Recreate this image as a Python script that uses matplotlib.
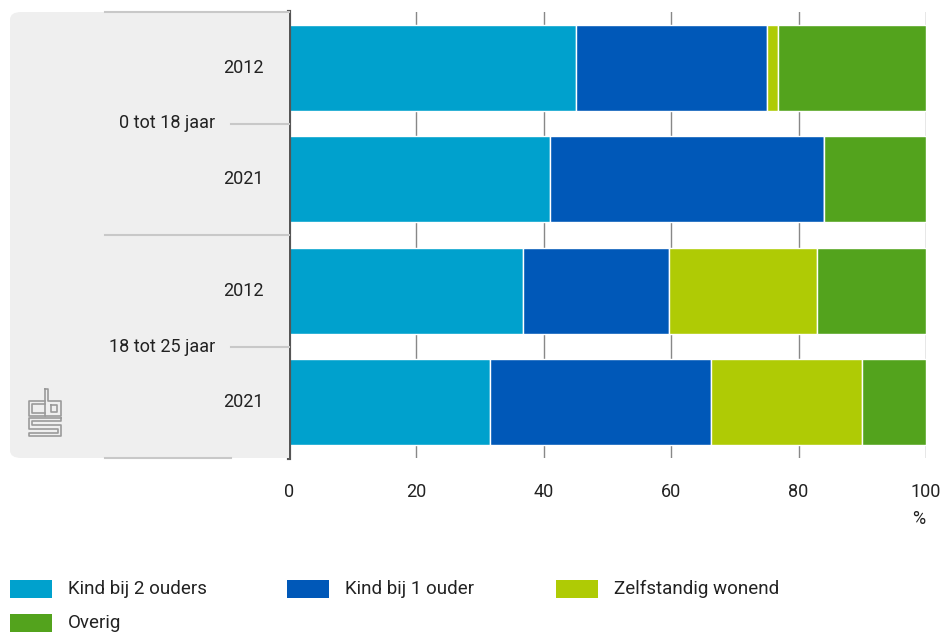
import matplotlib.pyplot as plt
import matplotlib.transforms as mtransforms
from matplotlib.patches import FancyBboxPatch, Rectangle
from matplotlib.lines import Line2D

plt.rcParams['font.family'] = ['Roboto', 'DejaVu Sans']

# data
groups = ["0 tot 18 jaar", "18 tot 25 jaar"]
years = ["2012", "2021", "2012", "2021"]
series = ["Kind bij 2 ouders", "Kind bij 1 ouder", "Zelfstandig wonend", "Overig"]
kind_2_ouders = [45.0, 41.0, 36.7, 31.5]
kind_1_ouder = [30.0, 43.0, 23.0, 34.7]
zelfstandig = [1.8, 0.0, 23.2, 23.8]
overig = [23.2, 16.0, 17.1, 10.0]
colors = ["#00a1cd", "#0058b8", "#afcb05", "#53a31d"]

W, H = 945, 633


def fx(px):
    return px / W


def fy(py):
    return 1 - py / H


fig = plt.figure(figsize=(W / 100, H / 100), dpi=100)

# grey panel behind the category labels
fig.patches.append(FancyBboxPatch((fx(10), fy(458)), fx(279), 446 / H,
                                  boxstyle="round,pad=0,rounding_size=0.012",
                                  transform=fig.transFigure, fc="#efefef",
                                  ec="none", zorder=0))
fig.patches.append(Rectangle((fx(250), fy(458)), fx(39), 446 / H,
                             transform=fig.transFigure, fc="#efefef",
                             ec="none", zorder=0))

ax = fig.add_axes([fx(289), fy(458), fx(926 - 289), 446 / H])
ax.patch.set_visible(False)

pos = list(range(len(years)))
left = [0.0] * len(years)
for name, vals, col in zip(series, [kind_2_ouders, kind_1_ouder, zelfstandig, overig], colors):
    ax.barh(pos, vals, left=left, height=0.77, color=col, edgecolor="white",
            linewidth=1, zorder=3)
    left = [a + b for a, b in zip(left, vals)]

ax.set_xlim(0, 100)
ax.set_ylim(3.5, -0.5)
ax.set_xticks([0, 20, 40, 60, 80, 100])
ax.xaxis.grid(True, color="#888888", linewidth=1, zorder=0)
ax.set_axisbelow(True)
ax.tick_params(axis="x", length=0, pad=18, labelsize=13, labelcolor="#222222")
ax.set_yticks([])
for s in ["top", "right", "bottom"]:
    ax.spines[s].set_visible(False)
ax.spines["left"].set_color("#555555")
ax.spines["left"].set_linewidth(3)
ax.spines["left"].set_zorder(5)

# year labels and group labels
tr = mtransforms.blended_transform_factory(fig.transFigure, ax.transData)
for p, y in zip(pos, years):
    fig.text(fx(264), p, y, transform=tr, ha="right", va="center",
             fontsize=13, color="#222222")
for i, g in enumerate(groups):
    fig.text(fx(215), 2 * i + 0.5, g, transform=tr, ha="right", va="center",
             fontsize=13, color="#222222")
    fig.lines.append(Line2D([fx(231), fx(289)], [2 * i + 0.5] * 2, transform=tr,
                            color="#c8c8c8", linewidth=1.5))
for yb, x1 in [(-0.5, 289), (1.5, 289), (3.5, 231)]:
    fig.lines.append(Line2D([fx(105), fx(x1)], [yb, yb], transform=tr,
                            color="#c8c8c8", linewidth=1.5, zorder=1))

fig.text(fx(919), fy(519), "%", ha="center", va="center", fontsize=13,
         color="#222222")

# legend
leg_pos = [(10, 589), (287, 589), (556, 589), (10, 623)]
for (lx, ly), name, col in zip(leg_pos, series, colors):
    fig.patches.append(Rectangle((fx(lx), fy(ly + 9)), fx(42), 18 / H,
                                 transform=fig.transFigure, fc=col, ec="none"))
    fig.text(fx(lx + 58), fy(ly), name, ha="left", va="center",
             fontsize=13.5, color="#222222")

# cbs logo (rough outline)
logo = [
    [(45, 401), (29, 401), (29, 416), (45, 416)],
    [(45, 404), (32, 404), (32, 413), (45, 413)],
    [(45, 389), (48, 389), (48, 401), (61, 401), (61, 416), (45, 416), (45, 389)],
    [(51, 405), (57, 405), (57, 412), (51, 412), (51, 405)],
    [(61, 418), (29, 418), (29, 429), (58, 429), (58, 433), (29, 433),
     (29, 436), (61, 436), (61, 425), (32, 425), (32, 421), (61, 421), (61, 418)],
]
for path in logo:
    xs = [fx(p[0]) for p in path]
    ys = [fy(p[1]) for p in path]
    fig.lines.append(Line2D(xs, ys, transform=fig.transFigure, color="#9a9a9a",
                            linewidth=1.2))

fig.savefig("out.png", dpi=100)
